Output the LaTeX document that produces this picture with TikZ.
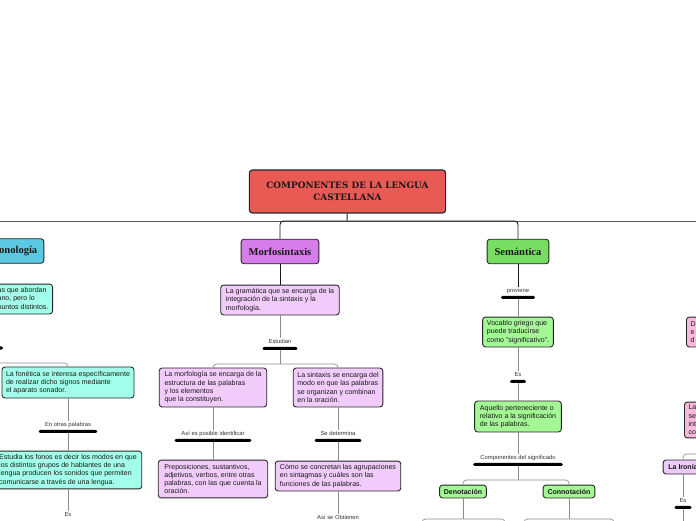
\documentclass[tikz,border=0pt]{standalone}
\usepackage{fontspec}
\setmainfont{Liberation Sans}
\newfontfamily\headfont{Liberation Serif}
\newfontfamily\titlefont{DejaVu Serif}
\usetikzlibrary{positioning}
\definecolor{titlered}{HTML}{EA5A55}
\definecolor{fonblue}{HTML}{5DC8E2}
\definecolor{morpurple}{HTML}{D67CEB}
\definecolor{semgreen}{HTML}{77DE63}
\definecolor{fonnote}{HTML}{A2FFE9}
\definecolor{mornote}{HTML}{F1CBFA}
\definecolor{semnote}{HTML}{A3F795}
\definecolor{pinknote}{HTML}{F8B9DC}
\definecolor{ironote}{HTML}{EDCBF8}
\tikzset{
    x=0.03cm, y=-0.03cm, % one unit is one pixel of the map, y grows downwards
    box/.style={draw=black!85, rounded corners=2.5pt, line width=0.75pt, inner sep=0pt, text=black!90}, % every rounded box
    topic/.style={box, font=\headfont\bfseries\fontsize{9}{10}\selectfont, minimum height=21pt}, % the three branches
    note/.style={box, align=left, font=\fontsize{6}{7.1}\selectfont, inner xsep=3.5pt}, % the explanations
    tag/.style={font=\fontsize{5}{6}\selectfont, text=black!80, inner sep=1pt, text height=3.6pt, text depth=1pt}, % small words on a line
    tagbar/.style={fill=black, rounded corners=1.2pt, minimum height=2.6pt, inner sep=0pt}, % the bar under a tag
    link/.style={draw=black!45, line width=0.6pt}, % thin connectors
    fork/.style={draw=black!45, line width=0.6pt, rounded corners=3pt}, % split connectors
    trunk/.style={draw=black!90, line width=0.8pt, rounded corners=3pt}, % connectors near the title
}
\begin{document}
\begin{tikzpicture}
\useasboundingbox (0,0) rectangle (696,520);
\clip (0,0) rectangle (696,520);

% title and the three branches
\node[box, fill=titlered, line width=1pt, minimum width=167.5pt, minimum height=36.6pt, align=center,
      font=\titlefont\bfseries\fontsize{7.6}{10.2}\selectfont] (cl) at (347.5,191.5) {COMPONENTES DE LA LENGUA\\CASTELLANA};
\node[topic, fill=fonblue,   minimum width=49.3pt] (fon) at (15,251)    {Fonología};
\node[topic, fill=morpurple, minimum width=66.3pt] (mor) at (280,251.5) {Morfosintaxis};
\node[topic, fill=semgreen,  minimum width=52.7pt] (sem) at (518,251.5) {Semántica};

% Fonologia
\node[note, fill=fonnote, anchor=east, minimum width=48.5pt, minimum height=25.5pt] (fon1) at (53,299) {as que abordan\\ano, pero lo\\puntos distintos.};
\node[tagbar, minimum width=30.6pt] (bf0) at (-15,348) {};
\node[note, fill=fonnote, minimum width=112.3pt, minimum height=26.4pt] (fon2) at (68,382.5) {La fonética se interesa específicamente\\de realizar dicho signos mediante\\el aparato sonador.};
\node[tag] (lf1) at (68,425) {En otras palabras};
\node[tagbar, minimum width=50pt, below=0.5pt of lf1] (bf1) {};
\node[note, fill=fonnote, minimum width=125.9pt, minimum height=32.3pt] (fon3) at (68,470) {Estudia los fonos es decir los modos en que\\los distintos grupos de hablantes de una\\lengua producen los sonidos que permiten\\comunicarse a través de una lengua.};
\node[tag] (lf2) at (68,515) {Es};

% Morfosintaxis
\node[note, fill=mornote, minimum width=101.2pt, minimum height=25.5pt] (mor1) at (280,300) {La gramática que se encarga de la\\integración de la sintaxis y la\\morfología.};
\node[tag] (lm1) at (280,342) {Estudian};
\node[tagbar, minimum width=29.8pt, below=0.5pt of lm1] (bm1) {};
\node[note, fill=mornote, minimum width=91.8pt, minimum height=33.2pt] (mor2) at (213,387.5) {La morfología se encarga de la\\estructura de las palabras\\y los elementos\\que la constituyen.};
\node[note, fill=mornote, minimum width=76.5pt, minimum height=33.2pt] (mor3) at (338,387.5) {La sintaxis se encarga del\\modo en que las palabras\\se organizan y combinan\\en la oración.};
\node[tag] (lm2) at (213,434) {Así es posible identificar};
\node[tagbar, minimum width=65.5pt, below=0.5pt of lm2] (bm2) {};
\node[tag] (lm3) at (338,434) {Se determina};
\node[tagbar, minimum width=40pt, below=0.5pt of lm3] (bm3) {};
\node[note, fill=mornote, minimum width=93.5pt, minimum height=32.3pt] (mor4) at (213,479) {Preposiciones, sustantivos,\\adjetivos, verbos, entre otras\\palabras, con las que cuenta la\\oración.};
\node[note, fill=mornote, minimum width=107.2pt, minimum height=25.5pt] (mor5) at (338,476) {Cómo se concretan las agrupaciones\\en sintagmas y cuáles son las\\funciones de las palabras.};
\node[tag] (lm4) at (338,518) {Así se Obtienen};

% Semantica
\node[tag] (ls1) at (518,291) {proviene};
\node[tagbar, minimum width=29pt, below=0.5pt of ls1] (bs1) {};
\node[note, fill=semnote, minimum width=60.4pt, minimum height=25.5pt] (sem1) at (518,332) {Vocablo griego que\\puede traducirse\\como "significativo".};
\node[tag] (ls2) at (518,375) {Es};
\node[tagbar, minimum width=13.6pt, below=0.5pt of ls2] (bs2) {};
\node[note, fill=semnote, minimum width=74pt, minimum height=26.4pt] (sem2) at (518,416.5) {Aquello perteneciente o\\relativo a la significación\\de las palabras.};
\node[tag] (ls3) at (518,458) {Componentes del significado};
\node[tagbar, minimum width=76.5pt, below=0.5pt of ls3] (bs3) {};
\node[box, fill=semnote, font=\bfseries\fontsize{6}{7}\selectfont, minimum width=40pt, minimum height=11pt] (den) at (463,491.5) {Denotación};
\node[box, fill=semnote, font=\bfseries\fontsize{6}{7}\selectfont, minimum width=44.2pt, minimum height=11pt] (con) at (569,491.5) {Connotación};

% right border
\node[note, fill=pinknote, anchor=west, text width=27pt, minimum height=25.5pt] (pk1) at (686,332) {D\\e\\d};
\node[note, fill=pinknote, anchor=west, text width=27pt, minimum height=30.6pt] (pk2) at (684,420) {La\\se\\int\\co};
\node[box, fill=ironote, font=\bfseries\fontsize{6}{7}\selectfont, minimum width=34pt, minimum height=11.9pt] (iro) at (683,467) {La Ironía};
\node[tag] (li1) at (683,501) {Es};
\node[tagbar, minimum width=14.5pt, below=0.5pt of li1] (bi1) {};

% connectors
\coordinate (tf) at (347,221);
\coordinate (wl) at (0,221);
\coordinate (wr) at (696,221);
\draw[link, draw=black!65] (wl) -- (wr);
\draw[trunk] (cl) -- (tf);
\draw[trunk] (mor) |- (tf) -| (sem);

\coordinate (ff) at (-20,363);
\draw[fork] (ff) -| (fon2);
\draw[link] (fon2) -- (lf1);
\draw[link] (bf1) -- (fon3);
\draw[link] (fon3) -- (lf2);

\coordinate (mf) at (280,364);
\draw[trunk] (mor) -- (mor1);
\draw[link] (mor1) -- (lm1);
\draw[link] (bm1) -- (mf);
\draw[fork] (mor2) |- (mf) -| (mor3);
\draw[link] (mor2) -- (lm2);
\draw[link] (bm2) -- (mor4);
\draw[link] (mor3) -- (lm3);
\draw[link] (bm3) -- (mor5);
\draw[link] (mor5) -- (lm4);

\coordinate (sf) at (518,480);
\coordinate (df) at (463,519);
\coordinate (dl) at (422,530);
\coordinate (dr) at (505,530);
\coordinate (cf) at (569,519);
\coordinate (cl2) at (524,530);
\coordinate (cr) at (614,530);
\draw[trunk] (sem) -- (ls1);
\draw[link] (bs1) -- (sem1);
\draw[link] (sem1) -- (ls2);
\draw[link] (bs2) -- (sem2);
\draw[link] (sem2) -- (ls3);
\draw[link] (bs3) -- (sf);
\draw[fork] (den) |- (sf) -| (con);
\draw[link] (den) -- (df);
\draw[fork] (dl) |- (df) -| (dr);
\draw[link] (con) -- (cf);
\draw[fork] (cl2) |- (cf) -| (cr);

\coordinate (irf) at (720,454);
\coordinate (ie) at (683,530);
\draw[fork] (irf) -| (iro);
\draw[link] (iro) -- (li1);
\draw[link] (bi1) -- (ie);
\end{tikzpicture}
\end{document}
